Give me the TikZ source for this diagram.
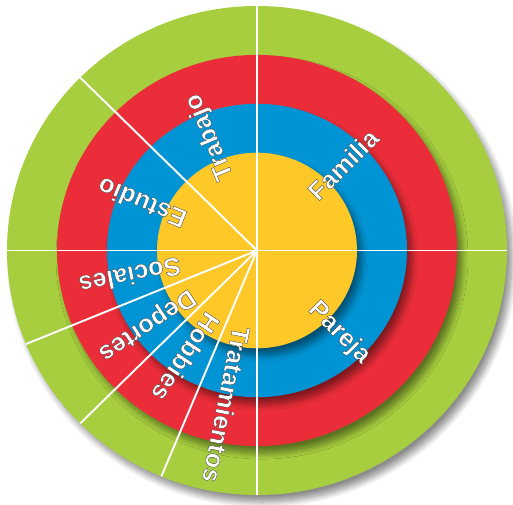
\documentclass[tikz,border=0pt]{standalone}
\usepackage{fontspec}
\setmainfont{Liberation Sans}
\newfontfamily\lblfont{Liberation Sans Bold}[FakeBold=1.3]
\usepackage{tikz}
\usetikzlibrary{shadows.blur}
\definecolor{ringgreen}{RGB}{166,206,62}
\definecolor{ringred}{RGB}{234,45,56}
\definecolor{ringblue}{RGB}{0,148,212}
\definecolor{ringyellow}{RGB}{254,200,40}
% dark rim round the white letters (stroke colour only)
\newcommand{\rimtext}[1]{\special{pdf:code 0.25 G}#1}

\begin{document}
\begin{tikzpicture}[
  disc/.style={blur shadow={shadow xshift=0.1cm, shadow yshift=-0.14cm,
      shadow blur radius=0.12cm, shadow blur steps=10, shadow opacity=45}},
  divider/.style={white, line width=1.1pt},
  lbl/.style={font=\lblfont\fontsize{14.5}{16}\selectfont, text=white,
      inner sep=0pt, anchor=west},
]

% 1px of the sketch = 0.02cm; hub at the origin, rings r = 5, 4, 3, 2
\useasboundingbox (-5.14,-5.07) rectangle (5.12,5.01);

\begin{scope}[yscale=0.978]
%% ── rings (outer to inner) ───────────────────────────────────────
\fill[ringgreen,  disc] (0,0) circle (5);
\fill[ringred,    disc] (0,0) circle (4);
\fill[ringblue,   disc] (0,0) circle (3);
\fill[ringyellow, disc] (0,0) circle (2);

%% ── sector dividers ──────────────────────────────────────────────
\coordinate (hub) at (0,0);
\foreach \ang [count=\i] in {0,90,135,180,202.5,225,247.5,270}{
  \coordinate (rim\i) at (\ang:5);
  \draw[divider] (hub) -- (rim\i);
}
\end{scope}

%% ── sector labels (read outward) ─────────────────────────────────
\foreach \ang/\txt/\nm in {45/Familia/fam, -45/Pareja/par, 112.5/Trabajo/trab,
    157.5/Estudio/est, 191.25/Sociales/soc, 213.75/Deportes/dep,
    236.25/Hobbies/hob, 258.75/Tratamientos/trat}{
  \node[lbl, rotate=\ang] (\nm) at (\ang:1.55) {\rimtext{\txt}};
}

\end{tikzpicture}
\end{document}
